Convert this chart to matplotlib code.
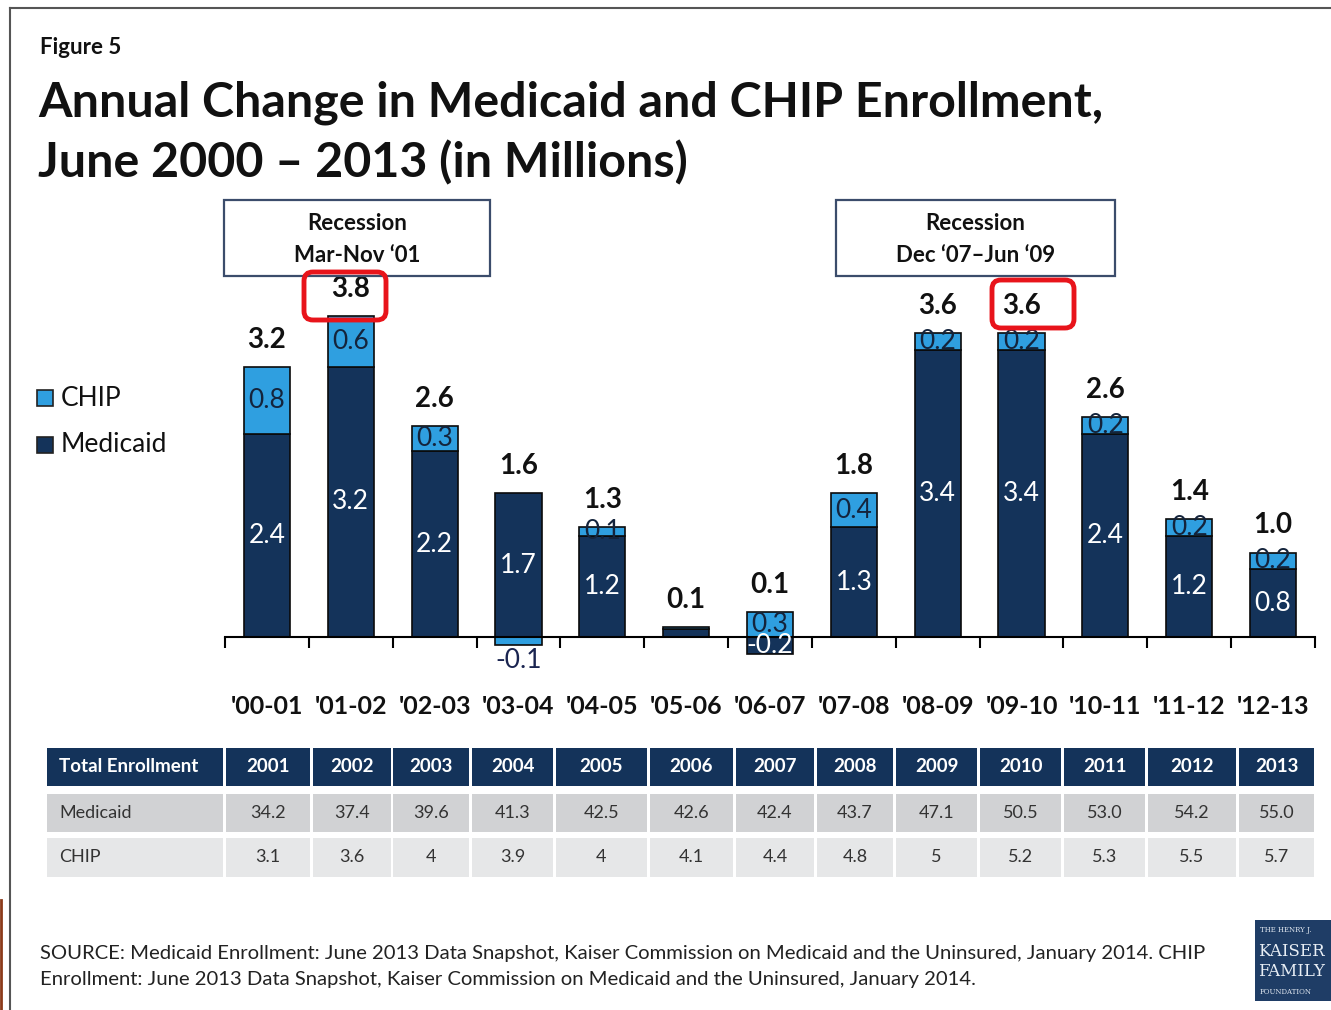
import numpy as np
import matplotlib
matplotlib.use("Agg")
import matplotlib.pyplot as plt
from matplotlib.patches import Rectangle, FancyBboxPatch
from matplotlib.lines import Line2D
from matplotlib.transforms import IdentityTransform

# ---------------- data ----------------
periods = ["'00-01", "'01-02", "'02-03", "'03-04", "'04-05", "'05-06", "'06-07",
           "'07-08", "'08-09", "'09-10", "'10-11", "'11-12", "'12-13"]
medicaid_chg = [2.4, 3.2, 2.2, 1.7, 1.2, 0.1, -0.2, 1.3, 3.4, 3.4, 2.4, 1.2, 0.8]
chip_chg = [0.8, 0.6, 0.3, -0.1, 0.1, 0.02, 0.3, 0.4, 0.2, 0.2, 0.2, 0.2, 0.2]
totals = [3.2, 3.8, 2.6, 1.6, 1.3, 0.1, 0.1, 1.8, 3.6, 3.6, 2.6, 1.4, 1.0]

table_years = ["2001", "2002", "2003", "2004", "2005", "2006", "2007", "2008",
               "2009", "2010", "2011", "2012", "2013"]
medicaid_enroll = ["34.2", "37.4", "39.6", "41.3", "42.5", "42.6", "42.4", "43.7",
                   "47.1", "50.5", "53.0", "54.2", "55.0"]
chip_enroll = ["3.1", "3.6", "4", "3.9", "4", "4.1", "4.4", "4.8", "5", "5.2",
               "5.3", "5.5", "5.7"]

NAVY = "#14335a"
CHIP_C = "#2f9fe0"
FONT = "Lato"
plt.rcParams['font.family'] = [FONT, 'DejaVu Sans']

W, H = 1331, 1010
fig = plt.figure(figsize=(W / 100, H / 100), dpi=100)
fig.patch.set_facecolor("white")
T = IdentityTransform()


def Y(y):
    return H - y


def ftext(x, y, s, **kw):
    fig.text(x, Y(y), s, transform=T, **kw)


def frect(x0, y0, x1, y1, **kw):
    fig.patches.append(Rectangle((x0, Y(y1)), x1 - x0, y1 - y0, transform=T, **kw))


# ---------------- frame ----------------
fig.add_artist(Line2D([10, W], [Y(8), Y(8)], transform=T, color="#555555", lw=1.5))
fig.add_artist(Line2D([10, 10], [Y(8), 0], transform=T, color="#555555", lw=1.5))
fig.add_artist(Line2D([1, 1], [Y(900), 0], transform=T, color="#8b3a1a", lw=2))

# ---------------- titles ----------------
ftext(40, 47, "Figure 5", fontsize=16, fontweight="bold", color="#111111", va="center")
ftext(38, 103, "Annual Change in Medicaid and CHIP Enrollment,", fontsize=34.8,
      fontweight="bold", color="#111111", va="center")
ftext(38, 163, "June 2000 \u2013 2013 (in Millions)", fontsize=34.8,
      fontweight="bold", color="#111111", va="center")

# ---------------- chart axes ----------------
ppu = 84.5  # pixels per unit
ax_top, ax_bot, base_px = 290, 690, 637
ax = fig.add_axes([225 / W, 1 - ax_bot / H, 1090 / W, (ax_bot - ax_top) / H])
ymin = -(ax_bot - base_px) / ppu
ax.set_ylim(ymin, ymin + (ax_bot - ax_top) / ppu)
ax.set_xlim(-0.5, len(periods) - 0.5)
ax.patch.set_alpha(0)

x = np.arange(len(periods))
med = np.array(medicaid_chg)
chp = np.array(chip_chg)
pos_base = np.where(med > 0, med, 0.0)
neg_base = np.where(med < 0, med, 0.0)
chip_bottom = np.where(chp >= 0, pos_base, neg_base)

bw = 0.55
ax.bar(x, med, width=bw, color=NAVY, edgecolor="#0a0a0a", linewidth=1.2, zorder=2)
ax.bar(x, chp, width=bw, bottom=chip_bottom, color=CHIP_C, edgecolor="#0a0a0a",
       linewidth=1.2, zorder=2)

for s in ["left", "right", "top"]:
    ax.spines[s].set_visible(False)
ax.spines["bottom"].set_position(("data", 0))
ax.spines["bottom"].set_linewidth(1.5)
ax.spines["bottom"].set_zorder(3)
ax.set_yticks([])
ax.set_xticks(np.arange(-0.5, len(periods), 1.0))
ax.tick_params(axis="x", direction="out", length=8, width=1.5, labelbottom=False)

lab_fs = 19
for i in range(len(periods)):
    top = pos_base[i] + max(chp[i], 0)
    ax.text(x[i], top + 0.32, f"{totals[i]:.1f}", ha="center", va="center",
            fontsize=20, fontweight="bold", color="#111111", zorder=4)
    if i == 5:
        continue
    # medicaid label
    ax.text(x[i], med[i] / 2, f"{med[i]:.1f}", ha="center", va="center",
            fontsize=lab_fs, color="white", zorder=4)
    # chip label
    if chp[i] < 0 and med[i] > 0:
        ax.text(x[i], -0.28, f"{chp[i]:.1f}", ha="center", va="center",
                fontsize=lab_fs, color="#1a2450", zorder=4)
    else:
        ax.text(x[i], chip_bottom[i] + chp[i] / 2, f"{chp[i]:.1f}", ha="center",
                va="center", fontsize=lab_fs, color="#14243c", zorder=4)

cat_y = -(707 - base_px) / ppu
for i, p in enumerate(periods):
    ax.text(x[i], cat_y, p, ha="center", va="center", fontsize=18,
            fontweight="bold", color="#111111")

# ---------------- recession boxes ----------------
for (x0, x1, l1, l2) in [(224, 490, "Recession", "Mar-Nov \u201801"),
                         (836, 1115, "Recession", "Dec \u201807\u2013Jun \u201809")]:
    frect(x0, 200, x1, 276, facecolor="white", edgecolor="#3b4c6b", lw=1.6)
    ftext((x0 + x1) / 2, 224, l1, ha="center", va="center", fontsize=16,
          fontweight="bold", color="#111111")
    ftext((x0 + x1) / 2, 255, l2, ha="center", va="center", fontsize=16,
          fontweight="bold", color="#111111")

# red highlight boxes
for (x0, y0, x1, y1) in [(304, 272, 386, 320), (992, 280, 1074, 328)]:
    fig.patches.append(FancyBboxPatch((x0, Y(y1)), x1 - x0, y1 - y0,
                                      boxstyle="round,pad=0,rounding_size=9",
                                      transform=T, facecolor="none",
                                      edgecolor="#e8141b", lw=3.5, zorder=5))

# ---------------- legend ----------------
frect(37, 390, 53, 406, facecolor=CHIP_C, edgecolor="#222222", lw=1.2)
frect(37, 437, 53, 453, facecolor=NAVY, edgecolor="#222222", lw=1.2)
ftext(61, 398, "CHIP", fontsize=19, color="#111111", va="center")
ftext(61, 445, "Medicaid", fontsize=19, color="#111111", va="center")

# ---------------- table ----------------
col_edges = [(47, 223), (226, 310), (313, 391), (393, 469), (472, 553), (556, 647),
             (650, 733), (736, 814), (817, 893), (896, 977), (980, 1061),
             (1064, 1145), (1148, 1236), (1239, 1314)]
rows = [(748, 786, NAVY, ["Total Enrollment"] + table_years, "white", "bold", 13.5),
        (794, 832, "#d1d2d4", ["Medicaid"] + medicaid_enroll, "#333333", "normal", 13),
        (838, 877, "#e6e7e8", ["CHIP"] + chip_enroll, "#333333", "normal", 13)]
for (y0, y1, fc, cells, tc, fw, fs) in rows:
    for j, (c0, c1) in enumerate(col_edges):
        frect(c0, y0, c1, y1, facecolor=fc, edgecolor="none")
        if j == 0:
            ftext(c0 + 12, (y0 + y1) / 2, cells[j], ha="left", va="center",
                  fontsize=fs, fontweight=fw, color=tc)
        else:
            ftext((c0 + c1) / 2, (y0 + y1) / 2, cells[j], ha="center", va="center",
                  fontsize=fs, fontweight=fw, color=tc)

# ---------------- source ----------------
ftext(40, 953, "SOURCE: Medicaid Enrollment: June 2013 Data Snapshot, Kaiser Commission on "
      "Medicaid and the Uninsured, January 2014. CHIP", fontsize=14.6, color="#222222",
      va="center")
ftext(40, 979, "Enrollment: June 2013 Data Snapshot, Kaiser Commission on Medicaid and the "
      "Uninsured, January 2014.", fontsize=14.6, color="#222222", va="center")

# ---------------- logo ----------------
frect(1255, 920, 1340, 1001, facecolor="#1f3d66", edgecolor="none")
ftext(1260, 930, "THE HENRY J.", fontsize=5, color="#dfe6ef", va="center",
      family="DejaVu Serif")
ftext(1258, 951, "KAISER", fontsize=12, color="#e8eef5", va="center",
      family="DejaVu Serif")
ftext(1258, 971, "FAMILY", fontsize=12, color="#e8eef5", va="center",
      family="DejaVu Serif")
ftext(1260, 992, "FOUNDATION", fontsize=5, color="#dfe6ef", va="center",
      family="DejaVu Serif")

fig.savefig("out.png", dpi=100)
